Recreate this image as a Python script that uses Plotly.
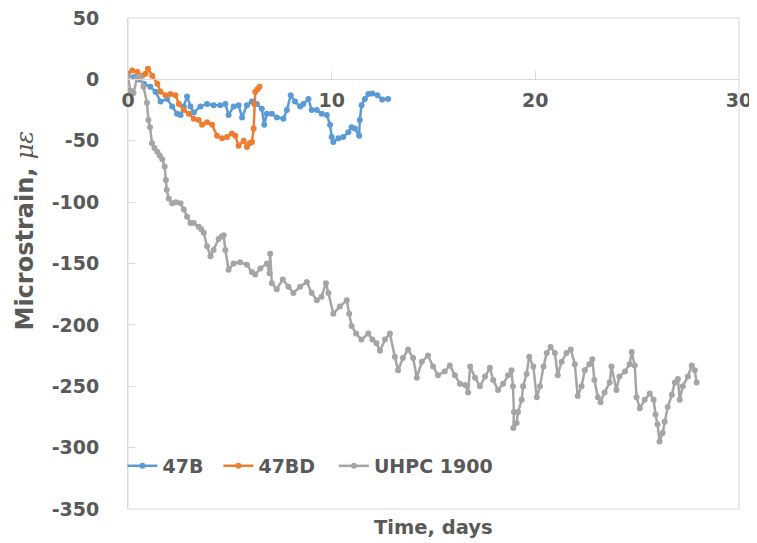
import plotly.graph_objects as go

# ---- data ----
b47_t = [0, 0.3, 0.54, 0.78, 1.1, 1.35, 1.6, 1.92, 2.17, 2.41, 2.58, 2.74, 2.9, 3.07, 3.23, 3.56,
         3.88, 4.2, 4.53, 4.78, 4.94, 5.19, 5.43, 5.6, 5.84, 6.08, 6.33, 6.57, 6.69, 6.82, 7.06,
         7.31, 7.63, 7.8, 7.99, 8.2, 8.45, 8.61, 8.86, 9.02, 9.27, 9.51, 9.76, 9.92, 10.0, 10.08,
         10.33, 10.57, 10.82, 10.98, 11.14, 11.35, 11.38, 11.47, 11.63, 11.8, 12.0, 12.25, 12.48, 12.77]
b47_v = [3, 2, 0, -3.5, -6, -10, -18, -16, -22, -28, -29, -22, -14, -22, -27, -22,
         -20, -21, -21, -20, -29, -22, -21, -31, -21, -18, -20, -24, -37, -28, -28,
         -31, -32, -25, -13, -18, -22, -20, -16, -25, -25, -28, -29, -37, -47, -51,
         -48, -47, -43, -39, -40, -46, -33, -21, -16, -12, -11.5, -13, -16.4, -16]

b47d_t = [0, 0.21, 0.46, 0.7, 0.86, 0.98, 1.19, 1.44, 1.6, 1.84, 2.09, 2.33, 2.5, 2.74, 2.99,
          3.23, 3.47, 3.64, 3.88, 4.13, 4.37, 4.62, 4.86, 5.1, 5.27, 5.43, 5.68, 5.84, 5.97,
          6.09, 6.17, 6.2, 6.25, 6.36, 6.46]
b47d_v = [4.6, 7.3, 6, 3, 4.6, 8.7, 3, -3.5, -10, -13, -12, -13, -20, -25, -28,
          -32, -33, -37, -35, -37, -46, -48, -47, -44, -46, -54, -50, -55, -52,
          -51, -40, -20, -10, -8, -6]

uhpc_t = [0, 0.11, 0.27, 0.44, 0.6, 0.76, 0.93, 1.0, 1.08, 1.18, 1.3, 1.44, 1.56, 1.68, 1.8,
          1.86, 1.9, 2.0, 2.17, 2.35, 2.58, 2.74, 2.9, 3.07, 3.23, 3.47, 3.6, 3.72, 3.88, 4.05,
          4.2, 4.45, 4.6, 4.7, 4.78, 4.94, 5.19, 5.5, 5.84, 6.08, 6.25, 6.5, 6.82, 6.95, 6.98,
          7.06, 7.3, 7.6, 7.88, 8.12, 8.45, 8.78, 9.02, 9.27, 9.5, 9.72, 9.84, 10.08, 10.4,
          10.74, 10.86, 10.98, 11.2, 11.46, 11.8, 12.0, 12.2, 12.37, 12.62, 12.86, 13.1, 13.26,
          13.5, 13.75, 14.0, 14.18, 14.43, 14.73, 14.98, 15.22, 15.55, 15.8, 16.05, 16.3, 16.55,
          16.7, 16.8, 17.04, 17.28, 17.53, 17.77, 17.93, 18.17, 18.42, 18.66, 18.83, 18.9, 18.95,
          18.92, 19.08, 19.15, 19.33, 19.4, 19.57, 19.7, 19.9, 20.07, 20.23, 20.4, 20.56, 20.75,
          20.96, 21.1, 21.29, 21.53, 21.74, 21.94, 22.08, 22.27, 22.43, 22.65, 22.8, 22.9, 23.07,
          23.2, 23.4, 23.65, 23.74, 23.98, 24.13, 24.4, 24.63, 24.73, 24.88, 24.97, 25.13, 25.37,
          25.62, 25.81, 25.9, 26.0, 26.1, 26.25, 26.35, 26.5, 26.7, 26.85, 27.0, 27.09, 27.24,
          27.49, 27.68, 27.83, 27.92]
uhpc_v = [3, -9, -11, 1, 2, -6, -19, -33, -39, -52, -56, -59, -62, -65, -71,
          -82, -90, -97, -101, -100, -101, -106, -112, -117, -117, -120, -122, -125, -136, -144,
          -139, -130, -128, -127, -139, -155, -150, -149, -151, -157, -159, -154, -150, -158, -142,
          -166, -171, -163, -169, -174, -169, -165, -174, -180, -177, -166, -174, -191, -185,
          -180, -191, -201, -207, -212, -207, -212, -215, -221, -212, -207, -226, -237,
          -227, -220, -227, -243, -230, -225, -234, -241, -238, -233, -241, -248, -249,
          -255, -234, -243, -250, -242, -235, -245, -253, -248, -241, -237, -250, -271,
          -284, -280, -271, -261, -250, -240, -226, -234, -259, -250, -234, -223, -218,
          -223, -241, -230, -223, -220, -232, -258, -250, -237, -232, -228, -245, -259,
          -263, -255, -247, -234, -253, -242, -238, -232, -222, -233, -259, -268, -261,
          -256, -261, -273, -281, -295, -288, -279, -267, -257, -247, -244, -261, -250,
          -242, -233, -237, -247]

series_names = ["47B", "47BD", "UHPC 1900"]
series_colors = ["#5B9BD5", "#ED7D31", "#A5A5A5"]

x_ticks = [0, 10, 20, 30]
y_ticks = [50, 0, -50, -100, -150, -200, -250, -300, -350]

TXT = "#595959"
GRID = "#D9D9D9"
FONT = "DejaVu Sans"

fig = go.Figure()
data = [(b47_t, b47_v), (b47d_t, b47d_v), (uhpc_t, uhpc_v)]
legends = ["legend", "legend2", "legend3"]
for (xs, ys), name, col, lg in zip(data, series_names, series_colors, legends):
    fig.add_trace(go.Scatter(
        x=xs, y=ys, name=name, mode="lines+markers",
        line=dict(color=col, width=2.5),
        marker=dict(color=col, size=6),
        legend=lg,
    ))

leg_common = dict(orientation="h", yanchor="middle", y=0.0876, xanchor="left",
                  bgcolor="rgba(0,0,0,0)",
                  font=dict(family=FONT, size=19, color=TXT, weight="bold"))
# page body adds an 8px offset, so the figure is 8px smaller and margins shifted
fig.update_layout(
    width=749, height=535,
    margin=dict(l=120, r=18, t=10, b=34, autoexpand=False),
    paper_bgcolor="white", plot_bgcolor="white",
    showlegend=True,
    legend=dict(x=-0.009, **leg_common),
    legend2=dict(x=0.148, **leg_common),
    legend3=dict(x=0.337, **leg_common),
    xaxis=dict(range=[0, 30], tickvals=x_ticks, ticktext=[str(v) for v in x_ticks],
               anchor="free", position=350 / 400.0, side="bottom", automargin=False,
               ticklabeloverflow="allow",
               showgrid=False, zeroline=False, showline=True, linecolor=GRID, linewidth=1,
               ticks="inside", ticklen=8, tickcolor=GRID, ticklabelstandoff=4,
               tickfont=dict(family=FONT, size=19, color=TXT, weight="bold")),
    yaxis=dict(range=[-350, 50], tickvals=y_ticks, ticktext=[str(v) for v in y_ticks],
               automargin=False, ticklabeloverflow="allow",
               showgrid=False, zeroline=False, showline=True, linecolor=GRID, linewidth=1,
               ticks="inside", ticklen=7, tickcolor=GRID, ticklabelstandoff=24,
               tickfont=dict(family=FONT, size=19, color=TXT, weight="bold")),
    shapes=[dict(type="rect", xref="paper", yref="paper", x0=0, x1=1, y0=0, y1=1,
                 line=dict(color=GRID, width=1), layer="below")],
    annotations=[
        dict(text="Time, days", xref="paper", yref="paper", x=0.5, y=-0.037,
             xanchor="center", yanchor="middle", showarrow=False,
             font=dict(family=FONT, size=19.5, color=TXT, weight="bold")),
        dict(text="Microstrain, <span style='font-family:DejaVu Serif;font-style:italic;font-weight:normal'>με</span>",
             xref="paper", yref="paper", x=-0.168, y=0.568, textangle=-90,
             xanchor="center", yanchor="middle", showarrow=False,
             font=dict(family=FONT, size=24, color=TXT, weight="bold")),
    ],
)

fig.write_html("out.html")
